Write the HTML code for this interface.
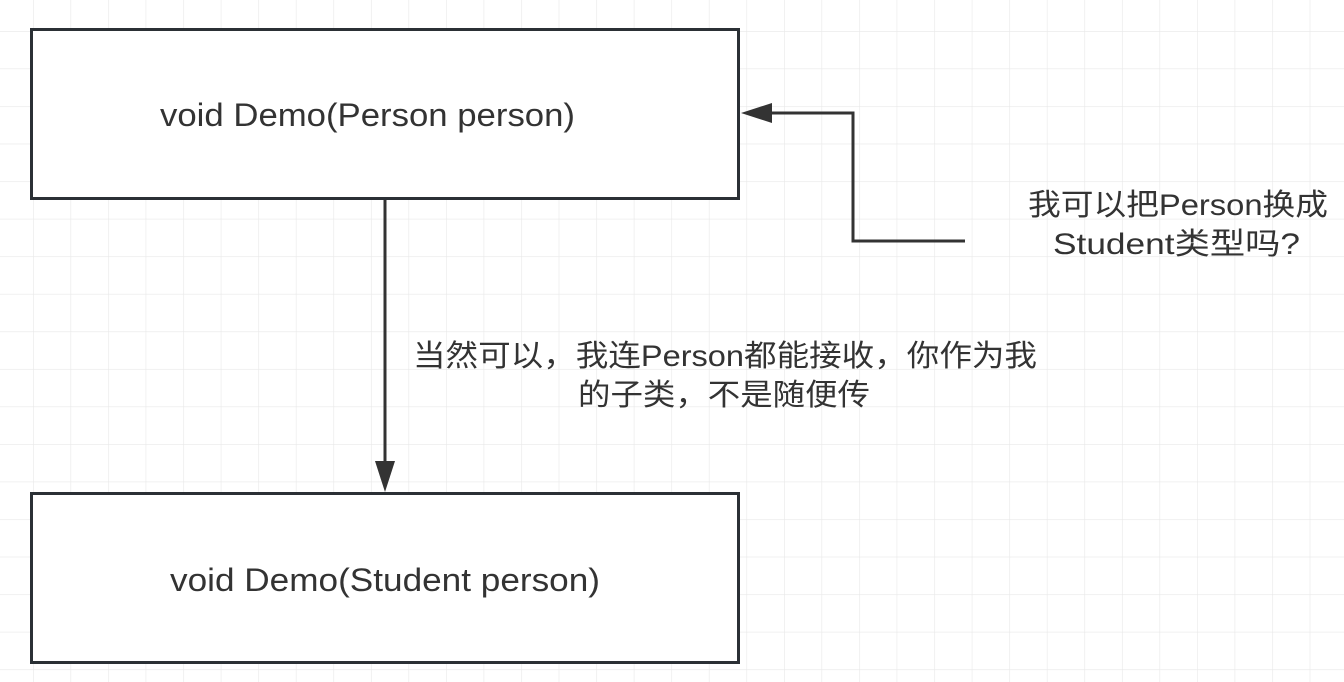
<!DOCTYPE html>
<html><head><meta charset="utf-8"><style>
html,body{margin:0;padding:0;background:#fff;}
svg{display:block;}
text{font-family:"Liberation Sans","Noto Sans CJK SC",sans-serif;fill:#333;}
</style></head><body>
<svg width="1344" height="682" viewBox="0 0 1344 682" xmlns="http://www.w3.org/2000/svg">
<defs>
<pattern id="g" x="33" y="31" width="37.55" height="37.55" patternUnits="userSpaceOnUse">
<path d="M0 0V37.55M0 0H37.55" stroke="#e8e8e8" stroke-width="1.2" fill="none"/>
</pattern>
</defs>
<rect width="1344" height="682" fill="url(#g)"/>
<rect x="31.5" y="29.5" width="707" height="169" fill="#fff" stroke="#2b3035" stroke-width="3"/>
<rect x="31.5" y="493.5" width="707" height="169" fill="#fff" stroke="#2b3035" stroke-width="3"/>
<text x="160" y="126" font-size="32" textLength="415" lengthAdjust="spacingAndGlyphs">void Demo(Person person)</text>
<text x="170" y="591" font-size="32" textLength="430" lengthAdjust="spacingAndGlyphs">void Demo(Student person)</text>
<path d="M385 200V465" stroke="#333" stroke-width="3" fill="none"/>
<path d="M375 461L395 461L385 492Z" fill="#333"/>
<path d="M965 241H853V113H768" stroke="#333" stroke-width="3" fill="none"/>
<path d="M741 113L772 103L772 123Z" fill="#333"/>
<text x="1028" y="215" font-size="30" textLength="300" lengthAdjust="spacingAndGlyphs">我可以把Person换成</text>
<text x="1053" y="254" font-size="30" textLength="247" lengthAdjust="spacingAndGlyphs">Student类型吗?</text>
<text x="413" y="366" font-size="30" textLength="624" lengthAdjust="spacingAndGlyphs">当然可以，我连Person都能接收，你作为我</text>
<text x="578" y="405" font-size="30" textLength="292" lengthAdjust="spacingAndGlyphs">的子类，不是随便传</text>
</svg>
</body></html>
